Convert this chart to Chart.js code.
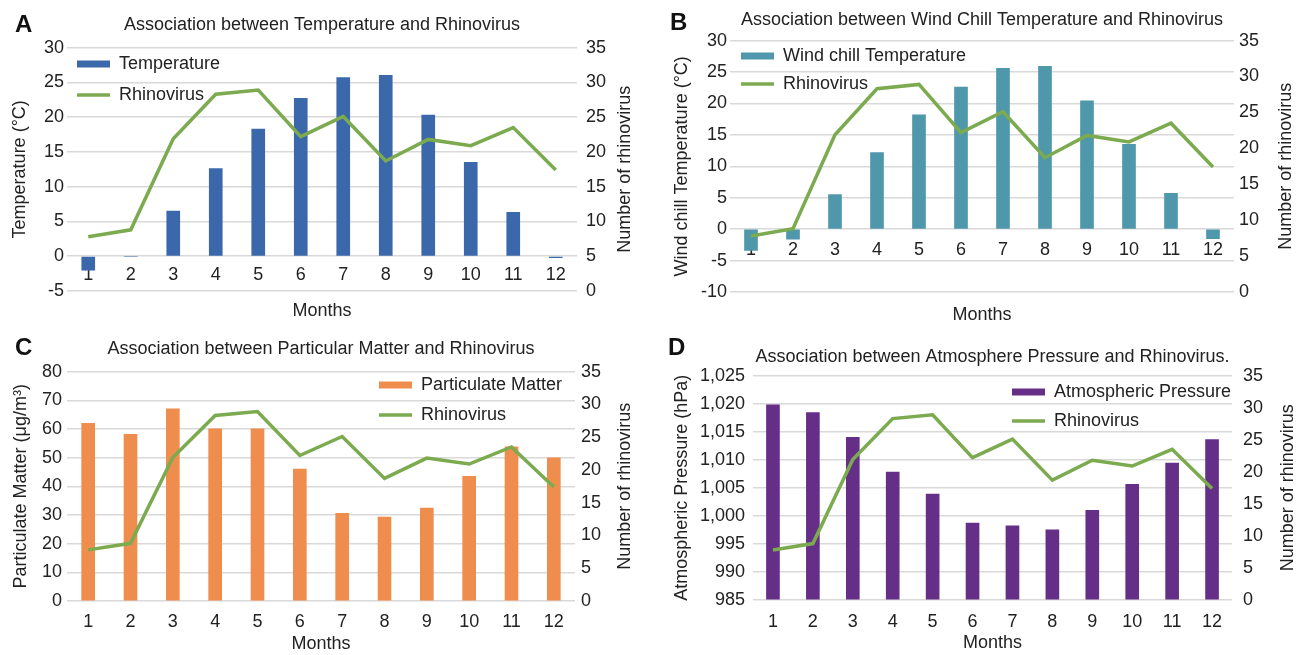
<!DOCTYPE html>
<html>
<head>
<meta charset="utf-8">
<title>Rhinovirus and weather</title>
<script src="https://cdn.jsdelivr.net/npm/chart.js@4.4.0/dist/chart.umd.min.js"></script>
<style>
  body { margin: 0; background: #fff; }
  #wrap { position: relative; width: 1302px; height: 655px; }
  canvas { position: absolute; }
  .tag { position: absolute; font: bold 24px 'Liberation Sans', Arial, sans-serif; line-height: 24px; color: #111; }
</style>
</head>
<body>
<div id="wrap">
  <canvas id="chartA" width="651" height="330" style="left:0;top:0"></canvas>
  <canvas id="chartB" width="651" height="330" style="left:651px;top:0"></canvas>
  <canvas id="chartC" width="651" height="325" style="left:0;top:330px"></canvas>
  <canvas id="chartD" width="651" height="325" style="left:651px;top:330px"></canvas>
  <div class="tag" style="left:15px;top:12px">A</div>
  <div class="tag" style="left:670px;top:10px">B</div>
  <div class="tag" style="left:15px;top:335px">C</div>
  <div class="tag" style="left:668px;top:335px">D</div>
</div>
<script>
// monthly values
const months = ['1', '2', '3', '4', '5', '6', '7', '8', '9', '10', '11', '12'];
const rhinovirus = [7.8, 8.8, 21.9, 28.3, 28.9, 22.2, 25.1, 18.7, 21.8, 20.9, 23.5, 17.4];
const temperature = [-2.0, 0, 6.5, 12.6, 18.3, 22.7, 25.7, 26.0, 20.3, 13.5, 6.3, -0.2];
const windChill = [-3.4, -1.6, 5.5, 12.2, 18.2, 22.6, 25.6, 25.9, 20.4, 13.5, 5.7, -1.5];
const particulateMatter = [62, 58.1, 67, 60, 60, 46, 30.6, 29.3, 32.4, 43.5, 53.8, 49.9];
const pressure = [1019.8, 1018.4, 1014, 1007.8, 1003.9, 998.7, 998.2, 997.5, 1001, 1005.6, 1009.4, 1013.6];

const TEXT = '#222';
const GRID = '#d9d9d9';
const GREEN = '#7baa4f';
const FONT = "'Liberation Sans', Arial, sans-serif";

Chart.defaults.font.family = FONT;
Chart.defaults.font.size = 18;
Chart.defaults.color = TEXT;

// legend sits inside the plot like the Excel original
const legendSpot = {
  id: 'legendSpot',
  afterLayout(chart, args, opts) {
    const lg = chart.legend;
    const pad = lg.options.labels.padding;
    lg.left = opts.x - pad;
    lg.top = opts.y - 9 - pad;
  }
};

// right axis title reads bottom-to-top in the original
const rightTitle = {
  id: 'rightTitle',
  afterDraw(chart, args, opts) {
    const {ctx, chartArea} = chart;
    ctx.save();
    ctx.translate(opts.x, (chartArea.top + chartArea.bottom) / 2);
    ctx.rotate(-Math.PI / 2);
    ctx.font = '18px ' + FONT;
    ctx.fillStyle = TEXT;
    ctx.textAlign = 'center';
    ctx.textBaseline = 'middle';
    ctx.fillText(opts.text, 0, 0);
    ctx.restore();
  }
};

function buildChart(id, p) {
  return new Chart(document.getElementById(id), {
    type: 'bar',
    data: {
      labels: months,
      datasets: [
        {
          type: 'bar', label: p.barLabel, data: p.barData, base: p.base,
          backgroundColor: p.barColor, barThickness: 13, pointStyle: 'rect',
          yAxisID: 'y', order: 1
        },
        {
          type: 'line', label: 'Rhinovirus', data: rhinovirus,
          borderColor: GREEN, backgroundColor: GREEN, borderWidth: 3.5,
          pointRadius: 0, tension: 0, pointStyle: 'line',
          yAxisID: 'y1', order: 0
        }
      ]
    },
    options: {
      responsive: false,
      animation: false,
      locale: 'en-US',
      plugins: {
        title: {
          display: true, text: p.title, fullSize: false, color: TEXT,
          font: {size: 18, weight: 'normal'},
          padding: {top: p.titlePad[0], bottom: p.titlePad[1]}
        },
        legend: {
          position: 'chartArea', align: 'start',
          labels: {
            usePointStyle: true, pointStyleWidth: 33, boxHeight: 7,
            padding: p.legend.gap, color: TEXT,
            sort: (a, b) => a.datasetIndex - b.datasetIndex
          }
        },
        legendSpot: {x: p.legend.x, y: p.legend.y},
        rightTitle: {text: 'Number of rhinovirus', x: p.rightTitleX},
        tooltip: {enabled: false}
      },
      scales: {
        x: {
          position: {y: p.xAt}, offset: true,
          grid: {display: false, drawTicks: false}, border: {display: false},
          ticks: {padding: p.xPad, maxRotation: 0, autoSkip: false},
          afterFit: s => { s.height = 0; }
        },
        x2: {
          type: 'category', position: 'bottom', offset: true,
          grid: {display: false, drawTicks: false}, border: {display: false},
          ticks: {display: false},
          title: {display: true, text: 'Months', padding: {top: 0, bottom: p.monthsPad}},
          afterFit: s => { s.height = p.bottomH; }
        },
        y: {
          position: 'left', min: p.yMin, max: p.yMax,
          ticks: {stepSize: p.yStep, padding: p.yPad},
          grid: {color: GRID, lineWidth: 1.5, drawTicks: false}, border: {display: false},
          title: {display: true, text: p.yTitle, padding: {top: p.yTitlePad, bottom: 0}},
          afterFit: s => { s.width = p.leftW; }
        },
        y1: {
          position: 'right', min: 0, max: 35,
          ticks: {stepSize: 5, padding: p.y1Pad},
          grid: {display: false, drawTicks: false}, border: {display: false},
          afterFit: s => { s.width = p.rightW; }
        }
      }
    },
    plugins: [legendSpot, rightTitle]
  });
}

buildChart('chartA', {
  title: 'Association between Temperature and Rhinovirus', titlePad: [14, 12],
  barLabel: 'Temperature', barData: temperature, barColor: '#3b67ab',
  yTitle: 'Temperature (°C)', yMin: -5, yMax: 30, yStep: 5, xAt: 0,
  leftW: 67, rightW: 74, yPad: 3, y1Pad: 9, yTitlePad: 9, rightTitleX: 625,
  xPad: 8, bottomH: 39, monthsPad: 8,
  legend: {x: 77, y: 64, gap: 13}
});

buildChart('chartB', {
  title: 'Association between Wind Chill Temperature and Rhinovirus', titlePad: [9, 10],
  barLabel: 'Wind chill Temperature', barData: windChill, barColor: '#4f97ab',
  yTitle: 'Wind chill Temperature (°C)', yMin: -10, yMax: 30, yStep: 5, xAt: 0,
  leftW: 79, rightW: 68, yPad: 3, y1Pad: 5, yTitlePad: 20, rightTitleX: 635,
  xPad: 10, bottomH: 38, monthsPad: 4,
  legend: {x: 90, y: 56, gap: 10}
});

buildChart('chartC', {
  title: 'Association between Particular Matter and Rhinovirus', titlePad: [8, 12],
  barLabel: 'Particulate Matter', barData: particulateMatter, barColor: '#ef8d4e',
  yTitle: 'Particulate Matter (μg/m³)', yMin: 0, yMax: 80, yStep: 10, xAt: 0,
  leftW: 67, rightW: 76, yPad: 5, y1Pad: 6, yTitlePad: 10, rightTitleX: 625,
  xPad: 10, bottomH: 54, monthsPad: 0,
  legend: {x: 379, y: 55, gap: 12}
});

buildChart('chartD', {
  title: 'Association between Atmosphere Pressure and Rhinovirus.', titlePad: [16, 8],
  barLabel: 'Atmospheric Pressure', barData: pressure, barColor: '#652f88', base: 985,
  yTitle: 'Atmospheric Pressure (hPa)', yMin: 985, yMax: 1025, yStep: 5, xAt: 985,
  leftW: 102, rightW: 70, yPad: 8, y1Pad: 11, yTitlePad: 20, rightTitleX: 637,
  xPad: 11, bottomH: 55, monthsPad: 1,
  legend: {x: 361, y: 62, gap: 11}
});
</script>
</body>
</html>
